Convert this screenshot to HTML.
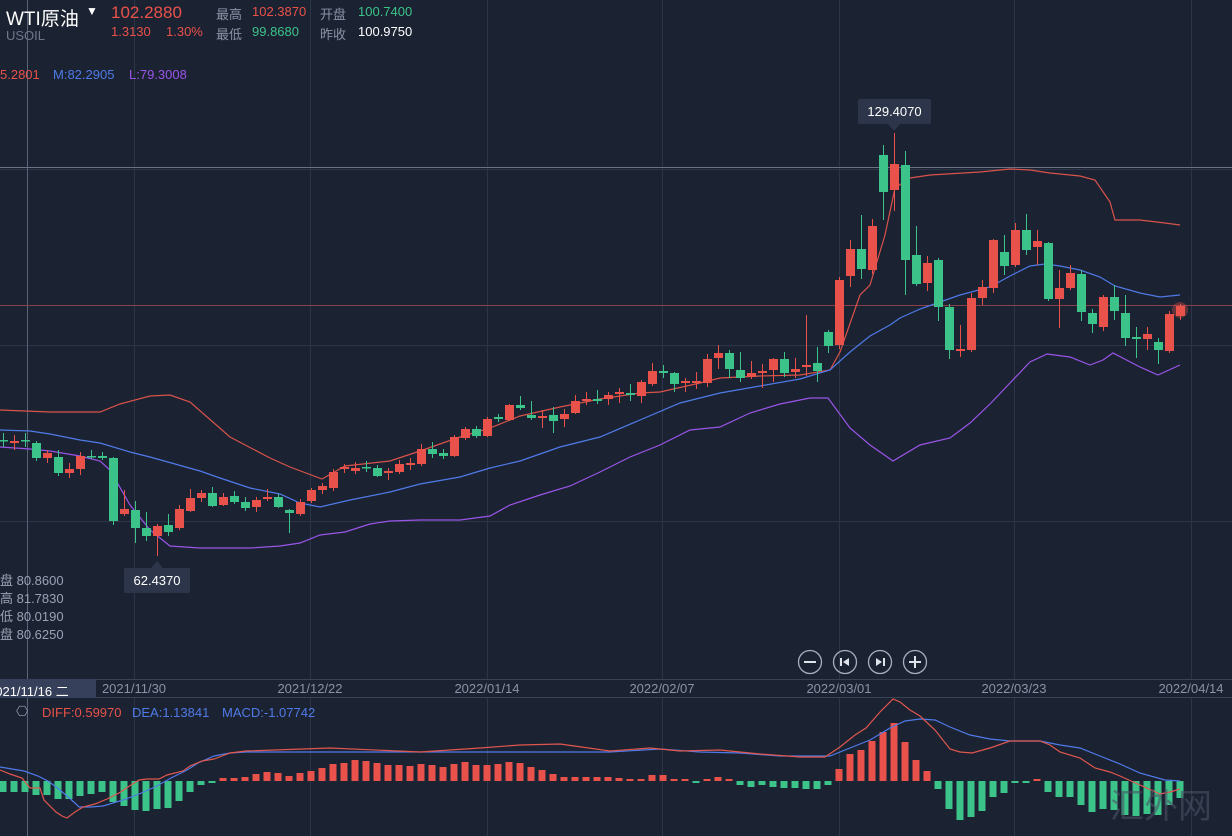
<!DOCTYPE html>
<html><head><meta charset="utf-8">
<style>
html,body{margin:0;padding:0;background:#1b2232;}
body{width:1232px;height:836px;overflow:hidden;position:relative;font-family:"Liberation Sans","Noto Sans CJK SC",sans-serif;}
.t{position:absolute;white-space:nowrap;}
svg{position:absolute;left:0;top:0;}
</style></head><body>
<svg id="s" width="1232" height="836" xmlns="http://www.w3.org/2000/svg"></svg>
<div class="t" style="left:6px;top:4px;font-size:19px;color:#fff;">WTI原油</div>
<div class="t" style="left:86px;top:4px;font-size:12px;color:#fff;">▼</div>
<div class="t" style="left:6px;top:28px;font-size:13px;color:#6f788a;">USOIL</div>
<div class="t" style="left:111px;top:3px;font-size:17px;color:#e9524a;">102.2880</div>
<div class="t" style="left:111px;top:24px;font-size:13px;color:#e9524a;">1.3130</div>
<div class="t" style="left:166px;top:24px;font-size:13px;color:#e9524a;">1.30%</div>
<div class="t" style="left:216px;top:4px;font-size:13px;color:#8a93a6;">最高</div>
<div class="t" style="left:252px;top:4px;font-size:13px;color:#e9524a;">102.3870</div>
<div class="t" style="left:320px;top:4px;font-size:13px;color:#8a93a6;">开盘</div>
<div class="t" style="left:358px;top:4px;font-size:13px;color:#3cc38a;">100.7400</div>
<div class="t" style="left:216px;top:24px;font-size:13px;color:#8a93a6;">最低</div>
<div class="t" style="left:252px;top:24px;font-size:13px;color:#3cc38a;">99.8680</div>
<div class="t" style="left:320px;top:24px;font-size:13px;color:#8a93a6;">昨收</div>
<div class="t" style="left:358px;top:24px;font-size:13px;color:#fff;">100.9750</div>
<div class="t" style="left:0px;top:67px;font-size:13px;color:#e9524a;">5.2801</div>
<div class="t" style="left:53px;top:67px;font-size:13px;color:#4f7be8;">M:82.2905</div>
<div class="t" style="left:129px;top:67px;font-size:13px;color:#9a55e8;">L:79.3008</div>
<div class="t" style="left:0px;top:572px;font-size:13px;color:#9aa3b5;line-height:18px;">盘 80.8600<br>高 81.7830<br>低 80.0190<br>盘 80.6250</div>
<div class="t" style="left:858px;top:99px;width:73px;height:25px;background:#2c3549;border-radius:2px;color:#fff;font-size:13px;line-height:25px;text-align:center;">129.4070</div>
<div class="t" style="left:124px;top:568px;width:66px;height:25px;background:#2c3549;border-radius:2px;color:#fff;font-size:13px;line-height:25px;text-align:center;">62.4370</div>
<div class="t" style="left:0;top:679px;width:96px;height:19px;background:#36405a;"></div>
<div class="t" style="left:-12px;top:681px;font-size:13px;color:#fff;">2021/11/16 二</div>
<div class="t" style="left:42px;top:705px;font-size:13px;color:#e9524a;">DIFF:0.59970</div>
<div class="t" style="left:132px;top:705px;font-size:13px;color:#4f7be8;">DEA:1.13841</div>
<div class="t" style="left:222px;top:705px;font-size:13px;color:#4f7be8;">MACD:-1.07742</div>
<div class="t" style="left:16px;top:703px;font-size:14px;color:#8a93a6;">⎔</div>
<script>
var s=document.getElementById('s'),NS='http://www.w3.org/2000/svg',h='';
function L(x1,y1,x2,y2,c,w){h+='<line x1="'+x1+'" y1="'+y1+'" x2="'+x2+'" y2="'+y2+'" stroke="'+c+'" stroke-width="'+(w||1)+'"/>';}
function P(pts,c){var d=pts.map(function(p,i){return (i?'L':'M')+p[0]+' '+p[1];}).join(' ');h+='<path d="'+d+'" fill="none" stroke="'+c+'" stroke-width="1.2"/>';}
// grid
[134,310,487,662,839,1014,1191].forEach(function(x){L(x+.5,0,x+.5,679,'#2d3548');L(x+.5,698,x+.5,836,'#2d3548');});
[169,345,521].forEach(function(y){L(0,y+.5,1232,y+.5,'#2d3548');});
L(27.5,0,27.5,679,'#5a6478');L(27.5,698,27.5,836,'#5a6478');
L(0,167.5,1232,167.5,'#6a7386');
L(0,305.5,1232,305.5,'#8a4048');
L(0,679.5,1232,679.5,'#3a4356');L(0,697.5,1232,697.5,'#3a4356');
// dates
var dl=['2021/11/30','2021/12/22','2022/01/14','2022/02/07','2022/03/01','2022/03/23','2022/04/14'];
[134,310,487,662,839,1014,1191].forEach(function(x,i){h+='<text x="'+x+'" y="693" font-size="13" fill="#8a93a6" text-anchor="middle" font-family="Liberation Sans">'+dl[i]+'</text>';});
// BOLL
P([[0,410],[50,412],[100,412],[120,404],[150,396],[170,395],[190,402],[230,437],[270,458],[290,467],[322,479],[345,466],[390,461],[420,451],[460,437],[490,428],[520,416],[560,407],[600,399],[640,393],[660,392],[700,383],[720,378],[760,376],[800,375],[830,370],[840,352],[860,295],[870,285],[885,235],[895,188],[910,178],[930,175],[980,172],[1010,169],[1030,170],[1050,173],[1080,176],[1095,180],[1110,202],[1115,220],[1140,220],[1165,223],[1180,225]],'#d9534b');
P([[0,430],[30,431],[50,434],[80,440],[100,443],[130,452],[150,457],[200,471],[220,478],[250,488],[280,494],[300,503],[320,507],[350,500],[390,492],[420,484],[460,477],[490,468],[520,461],[560,447],[600,437],[640,420],[680,403],[720,393],[760,386],[800,379],[830,370],[850,352],[870,336],[890,325],[900,318],[920,309],[940,302],[960,295],[990,287],[1010,276],[1030,266],[1045,264],[1060,266],[1080,270],[1100,277],[1115,286],[1140,293],[1160,297],[1180,295]],'#4f7be8');
P([[0,447],[30,449],[50,451],[80,456],[100,461],[110,470],[130,505],[150,530],[170,546],[200,548],[250,548],[280,546],[300,543],[320,535],[345,532],[370,524],[390,521],[420,520],[460,520],[490,516],[510,505],[540,495],[570,486],[600,472],[630,457],[660,445],[690,430],[720,427],[750,413],[780,404],[810,398],[828,398],[850,428],[870,445],[893,461],[920,445],[950,438],[970,423],[990,404],[1010,383],[1030,362],[1047,354],[1070,357],[1090,365],[1103,360],[1113,353],[1140,367],[1158,375],[1180,365]],'#9a55e8');
// candles
var C=[['g',440,441,433,447],['r',441,443,435,450],['g',440,441,433,447],['g',443,458,441,461],['r',453,458,450,463],['g',457,473,450,476],['r',469,473,463,478],['r',456,469,452,475],['g',456,457,450,459],['g',456,458,452,460],
['g',458,521,457,525],['r',509,514,490,516],['g',510,528,501,543],['g',528,536,512,541],['r',526,536,524,556],['g',525,532,514,536],['r',509,528,505,530],['r',498,511,489,512],['r',493,498,490,502],['g',493,506,487,507],
['r',497,505,493,506],['g',496,502,491,504],['g',502,508,497,511],['r',500,507,497,512],['r',497,499,489,501],['g',497,507,494,508],['g',510,513,509,533],['r',502,514,499,516],['r',490,501,488,503],['r',486,490,483,494],
['r',472,488,469,491],['r',467,469,464,473],['r',468,471,462,474],['g',467,468,461,472],['g',468,476,465,477],['r',471,473,468,480],['r',464,472,460,474],['r',463,465,458,470],['r',449,464,444,466],['g',449,454,442,458],
['g',453,456,449,459],['r',437,456,435,457],['r',429,438,427,440],['g',429,436,426,438],['r',419,436,417,437],['g',417,419,414,422],['r',405,420,404,421],['g',405,408,396,410],['g',415,418,401,420],['r',416,418,410,428],
['g',415,421,407,433],['r',414,419,409,427],['r',401,413,395,414],['r',399,401,392,405],['g',399,401,390,404],['r',395,399,392,405],['r',392,394,388,403],['g',393,395,384,401],['r',382,396,380,403],['r',371,384,363,386],
['g',371,373,365,378],['g',373,384,372,392],['r',381,383,378,392],['r',381,383,372,389],['r',359,383,354,387],['r',353,358,345,369],['g',353,369,350,378],['g',370,378,352,382],['r',373,377,361,379],['r',371,373,364,388],
['r',359,370,358,382],['g',359,373,352,377],['r',369,372,358,378],['r',365,367,315,376],['g',363,371,347,382],['g',332,346,330,353],['r',280,345,277,349],['r',249,276,240,287],['g',249,269,215,279],['r',226,270,219,274],
['g',155,192,145,220],['r',164,190,133,211],['g',165,260,151,295],['g',255,284,226,286],['r',263,283,256,291],['g',260,307,258,321],['g',307,350,304,359],['r',349,351,325,357],['r',298,350,293,352],['r',287,298,280,305],
['r',240,288,239,293],['g',252,266,235,275],['r',230,265,223,267],['g',230,250,214,255],['r',241,247,230,265],['g',243,299,242,301],['r',288,299,270,328],['r',273,288,265,290],['g',274,312,270,321],['g',313,324,309,333],
['r',297,327,295,331],['g',297,311,285,320],['g',313,338,295,346],['g',337,339,327,358],['r',334,339,327,350],['g',342,350,338,364],['r',314,351,311,353],['r',306,316,304,320]];
h+='<circle cx="1180" cy="310" r="8" fill="#e9524a" opacity="0.35"/>';
C.forEach(function(c,i){var x=3+11*i,col=c[0]=='r'?'#e9524a':'#3cc38a';
L(x+.5,c[3],x+.5,c[4],col);var bh=Math.max(1.5,c[2]-c[1]);h+='<rect x="'+(x-4)+'" y="'+c[1]+'" width="9" height="'+bh+'" fill="'+col+'"/>';});
// MACD bars
var M=[792,792,792,795,795,799,799,796,794,792,802,806,810,811,809,808,801,792,785,782,
778,778,777,774,772,773,776,773,771,768,764,763,760,761,763,765,765,766,764,765,767,764,762,765,765,764,762,763,767,770,774,777,777,777,777,777,
778,779,779,775,775,779,779,783,779,777,779,785,787,785,787,788,788,789,789,785,769,754,750,741,732,723,742,760,771,789,809,820,817,811,797,793,783,782,779,792,797,797,805,812,809,810,815,816,814,815,805,798];
var Z=781;
M.forEach(function(v,i){var x=3+11*i,col=v<Z?'#e9524a':'#3cc38a';var y=Math.min(v,Z),hh=Math.max(2,Math.abs(v-Z));h+='<rect x="'+(x-3.5)+'" y="'+y+'" width="7" height="'+hh+'" fill="'+col+'"/>';});
P([[0,767],[24,771],[38,776],[48,781],[60,790],[75,803],[79,807],[91,807],[103,806],[123,800],[139,794],[155,787],[171,778],[187,770],[198,763],[214,756],[230,753],[246,752],[610,752],[660,749],[700,752],[740,753],[780,756],[830,756],[850,748],[870,740],[890,728],[905,721],[920,719],[935,720],[950,727],[970,735],[990,739],[1010,741],[1040,741],[1060,745],[1080,748],[1100,756],[1120,764],[1140,773],[1165,780],[1180,781]],'#4f7be8');
P([[0,770],[10,774],[22,778],[30,788],[40,788],[44,800],[56,812],[62,816],[67,818],[75,812],[83,807],[95,804],[107,799],[119,793],[131,785],[139,780],[147,779],[159,779],[167,775],[183,771],[190,766],[202,761],[214,759],[222,756],[230,753],[246,751],[330,748],[420,752],[480,748],[520,745],[560,744],[610,751],[650,748],[680,751],[720,750],[760,754],[800,757],[825,757],[840,747],[855,735],[866,728],[880,712],[893,699],[900,702],[910,710],[920,716],[935,730],[950,749],[960,752],[972,753],[990,748],[1010,741],[1040,741],[1050,745],[1060,752],[1080,758],[1095,768],[1110,772],[1120,776],[1140,785],[1160,794],[1170,792],[1180,789]],'#e0574e');
// tooltip arrows
h+='<polygon points="888,124 900,124 894,131" fill="#2c3549"/><polygon points="151,568 163,568 157,561" fill="#2c3549"/>';
// buttons
[810,845,880,915].forEach(function(x,i){h+='<circle cx="'+x+'" cy="662" r="11.5" fill="none" stroke="#a8b0c0" stroke-width="1.3"/>';});
h+='<line x1="804" y1="662" x2="816" y2="662" stroke="#dfe3ea" stroke-width="2"/>';
h+='<line x1="909" y1="662" x2="921" y2="662" stroke="#dfe3ea" stroke-width="2"/><line x1="915" y1="656" x2="915" y2="668" stroke="#dfe3ea" stroke-width="2"/>';
h+='<rect x="840" y="658" width="2" height="8" fill="#dfe3ea"/><polygon points="849,658 849,666 843,662" fill="#dfe3ea"/>';
h+='<rect x="883" y="658" width="2" height="8" fill="#dfe3ea"/><polygon points="876,658 876,666 882,662" fill="#dfe3ea"/>';
h+='<text x="1110" y="818" font-size="34" fill="#4a5264" opacity="0.6" font-family="Noto Sans CJK SC">汇外网</text>';
s.innerHTML=h;
</script>
</body></html>
